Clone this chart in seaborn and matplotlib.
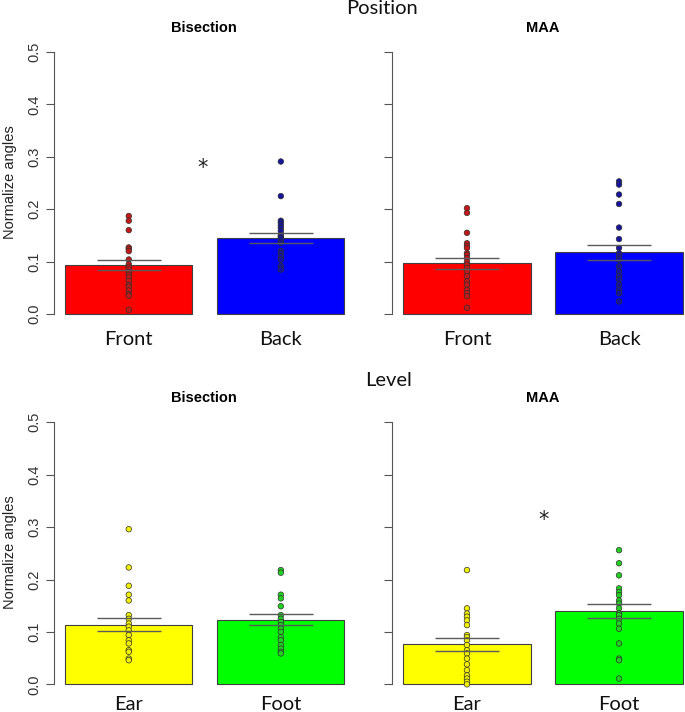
import numpy as np
import pandas as pd
import matplotlib
matplotlib.use("Agg")
import matplotlib.pyplot as plt
import seaborn as sns

# --- values ---
position_cats = ["Front", "Back"]
level_cats = ["Ear", "Foot"]
yticks = [0.0, 0.1, 0.2, 0.3, 0.4, 0.5]

# individual points (normalized angles)
pos_bis_front = [0.187, 0.178, 0.160, 0.127, 0.124, 0.120, 0.104, 0.095, 0.090, 0.085,
                 0.080, 0.075, 0.070, 0.063, 0.055, 0.052, 0.045, 0.038, 0.035, 0.008]
pos_bis_back = [0.291, 0.225, 0.178, 0.174, 0.169, 0.164, 0.158, 0.150, 0.148, 0.145,
                0.140, 0.136, 0.120, 0.116, 0.110, 0.104, 0.092, 0.085]
pos_maa_front = [0.202, 0.193, 0.155, 0.135, 0.130, 0.126, 0.116, 0.113, 0.107, 0.100,
                 0.094, 0.088, 0.081, 0.072, 0.062, 0.056, 0.046, 0.040, 0.034, 0.012]
pos_maa_back = [0.253, 0.247, 0.228, 0.210, 0.165, 0.143, 0.126, 0.116, 0.110, 0.104,
                0.091, 0.081, 0.072, 0.066, 0.056, 0.046, 0.040, 0.024]
lev_bis_ear = [0.296, 0.223, 0.188, 0.171, 0.160, 0.132, 0.125, 0.116, 0.110, 0.103,
               0.094, 0.084, 0.078, 0.065, 0.062, 0.049, 0.046]
lev_bis_foot = [0.218, 0.213, 0.171, 0.164, 0.149, 0.132, 0.125, 0.119, 0.113, 0.106,
                0.100, 0.090, 0.084, 0.075, 0.068, 0.062, 0.059]
lev_maa_ear = [0.218, 0.145, 0.135, 0.129, 0.122, 0.113, 0.094, 0.090, 0.084, 0.075,
               0.065, 0.059, 0.049, 0.038, 0.027, 0.017, 0.011, 0.005, 0.000]
lev_maa_foot = [0.256, 0.231, 0.208, 0.183, 0.176, 0.170, 0.160, 0.154, 0.145, 0.135,
                0.132, 0.125, 0.116, 0.106, 0.078, 0.049, 0.046, 0.011]

# bar heights and standard errors
pos_bis_mean = [0.094, 0.145]
pos_bis_se = [0.0097, 0.0100]
pos_maa_mean = [0.097, 0.118]
pos_maa_se = [0.0102, 0.0140]
lev_bis_mean = [0.114, 0.123]
lev_bis_se = [0.0130, 0.0105]
lev_maa_mean = [0.076, 0.1395]
lev_maa_se = [0.0123, 0.0132]

# significance stars (x between bars, y of the star centre)
pos_bis_star = (0.485, 0.29)
lev_maa_star = (0.503, 0.325)

W, H = 685, 712
plt.rcParams["font.family"] = ["Liberation Sans", "DejaVu Sans"]

fig = plt.figure(figsize=(W / 100, H / 100), dpi=100)


def px(x, y):
    return x / W, 1 - y / H


bar_cols = {"Front": "#FF0000", "Back": "#0000FF", "Ear": "#FFFF00", "Foot": "#00FF00"}
pt_cols = {"Front": "#C41818", "Back": "#14149E", "Ear": "#F0F000", "Foot": "#22D022"}

panels = [
    (position_cats, pos_bis_front, pos_bis_back, pos_bis_mean, pos_bis_se, pos_bis_star, 53.8, 41.5, True, 5),
    (position_cats, pos_maa_front, pos_maa_back, pos_maa_mean, pos_maa_se, None, 392.0, 41.5, False, 5),
    (level_cats, lev_bis_ear, lev_bis_foot, lev_bis_mean, lev_bis_se, None, 53.8, 411.8, True, 1),
    (level_cats, lev_maa_ear, lev_maa_foot, lev_maa_mean, lev_maa_se, lev_maa_star, 392.0, 411.8, False, 1),
]

for cats, g1, g2, means, ses, star, left, top, labels, xpad in panels:
    ax = fig.add_axes([left / W, 1 - (top + 283) / H, 302 / W, 283 / H])
    ax.patch.set_alpha(0)

    sns.barplot(x=cats, y=means, hue=cats, palette=[bar_cols[c] for c in cats],
                width=0.836, edgecolor="#404040", linewidth=0.8, errorbar=None,
                legend=False, ax=ax, zorder=1, saturation=1)

    pts = pd.DataFrame({"group": [cats[0]] * len(g1) + [cats[1]] * len(g2),
                        "value": g1 + g2})
    sns.stripplot(data=pts, x="group", y="value", hue="group", order=cats,
                  palette=[pt_cols[c] for c in cats], jitter=False, size=4.0,
                  edgecolor="#303030", linewidth=0.5, legend=False, ax=ax, zorder=3)

    for i, (m, s) in enumerate(zip(means, ses)):
        ax.hlines([m + s, m - s], i - 0.21, i + 0.21, color="#5a5a5a", lw=1.0, zorder=4)

    if star is not None:
        # asterisk glyph sits high above the baseline, so drop the baseline a bit
        ax.text(star[0], star[1] - 0.0235, "*", ha="center", va="baseline", fontsize=15,
                family="DejaVu Sans", color="#222222")

    ax.set_xlim(-0.493, 1.493)
    ax.set_ylim(-0.02, 0.52)
    for sp in ["top", "right", "bottom"]:
        ax.spines[sp].set_visible(False)
    ax.spines["left"].set_bounds(0, 0.5)
    ax.spines["left"].set_color("#555555")
    ax.set_yticks(yticks)
    if labels:
        ax.set_yticklabels([f"{t:.1f}" for t in yticks], rotation=90, va="center",
                           fontsize=10.5, color="#333333")
    else:
        ax.set_yticklabels([])
    ax.tick_params(axis="y", length=6, width=0.8, color="#555555", pad=3)
    ax.tick_params(axis="x", length=0, pad=xpad)
    ax.set_xticks([0, 1])
    ax.set_xticklabels(cats, fontsize=14.5, family=["Lato", "DejaVu Sans"], color="#111111")
    ax.set_xlabel("")
    ax.set_ylabel("")

# titles and labels
fig.text(*px(382, 9), "Position", ha="center", va="center", fontsize=14.5,
         family=["Lato", "DejaVu Sans"], color="#111111")
fig.text(*px(389, 380), "Level", ha="center", va="center", fontsize=14.5,
         family=["Lato", "DejaVu Sans"], color="#111111")
for x, y in [(204, 27.5), (204, 397.5)]:
    fig.text(*px(x, y), "Bisection", ha="center", va="center", fontsize=10.5, weight="bold")
for x, y in [(543, 28), (543, 397.5)]:
    fig.text(*px(x, y), "MAA", ha="center", va="center", fontsize=10.5, weight="bold")
for y in [182, 552]:
    fig.text(*px(10, y), "Normalize angles", ha="center", va="center", rotation=90,
             fontsize=10.5, color="#222222")

fig.savefig("out.png", dpi=100)
